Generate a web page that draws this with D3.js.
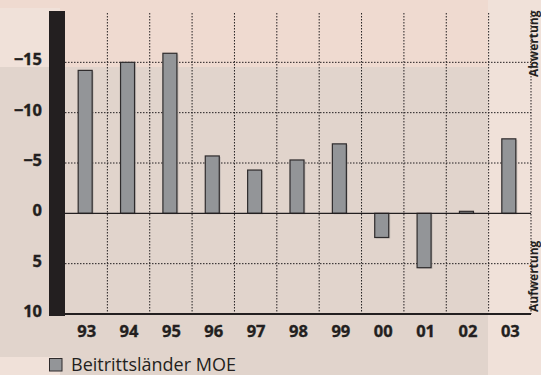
<!DOCTYPE html>
<html>
<head>
<meta charset="utf-8">
<script src="https://cdn.jsdelivr.net/npm/d3@7"></script>
<style>
  html, body { margin: 0; padding: 0; background: #f0e1d9; }
  svg { display: block; }
</style>
</head>
<body>
<svg id="chart" width="541" height="375"></svg>
<script>
// Years shown on the category axis
const years = ["93", "94", "95", "96", "97", "98", "99", "00", "01", "02", "03"];
// Series: Beitrittsländer MOE (negative = Abwertung, drawn upward)
const values = [-14.2, -15.0, -15.9, -5.7, -4.3, -5.3, -6.9, 2.4, 5.4, -0.2, -7.4];
// Value-axis ticks and their labels
const yTicks = [-15, -10, -5, 0, 5, 10];
const yTickLabels = ["\u221215", "\u221210", "\u22125", "0", "5", "10"];
const seriesName = "Beitrittsländer MOE";

const svg = d3.select("#chart");
const W = 541, H = 375;
const plot = { left: 65, right: 531, top: 12, bottom: 314 };

// Background panels
svg.append("rect").attr("x", 0).attr("y", 0).attr("width", W).attr("height", H).attr("fill", "#f0e1d9");
svg.append("path")
  .attr("d", "M0,0H488V67H60V8H0Z")
  .attr("fill", "#efdad0");
svg.append("path")
  .attr("d", "M0,67H488V375H60V357H0Z")
  .attr("fill", "#e1d4cc");

const x = d3.scaleBand().domain(years).range([plot.left, plot.right]).padding(0);
const y = d3.scaleLinear().domain([-20, 10]).range([plot.top, plot.bottom]);

const ink = "#231f20";

// Horizontal dotted gridlines
svg.append("g").selectAll("line")
  .data(yTicks.filter(t => t !== 0 && t !== 10))
  .join("line")
  .attr("x1", plot.left).attr("x2", plot.right)
  .attr("y1", d => y(d)).attr("y2", d => y(d))
  .attr("stroke", ink).attr("stroke-width", 1)
  .attr("stroke-dasharray", "1.5,1.5");

// Vertical dotted separators between years
const bounds = years.slice(1).map(d => x(d)).concat([plot.right]);
svg.append("g").selectAll("line")
  .data(bounds)
  .join("line")
  .attr("x1", d => d).attr("x2", d => d)
  .attr("y1", plot.top + 1).attr("y2", plot.bottom)
  .attr("stroke", ink).attr("stroke-width", 1)
  .attr("stroke-dasharray", "1.5,1.5");

// Bars
const barW = 14;
const bx = d => x(d) + x.bandwidth() / 2 - barW / 2 - 1;
const rows = years.map((d, i) => ({ year: d, v: values[i] }));
const bars = svg.append("g");
bars.selectAll("rect.shadow")
  .data(rows)
  .join("rect")
  .attr("class", "shadow")
  .attr("x", d => bx(d.year) + 1.5)
  .attr("y", d => Math.min(y(d.v), y(0)) + 1)
  .attr("width", barW)
  .attr("height", d => Math.abs(y(d.v) - y(0)))
  .attr("fill", "#b8b1ad").attr("opacity", 0.7);
bars.selectAll("rect.bar")
  .data(rows)
  .join("rect")
  .attr("class", "bar")
  .attr("x", d => bx(d.year))
  .attr("y", d => Math.min(y(d.v), y(0)))
  .attr("width", barW)
  .attr("height", d => Math.abs(y(d.v) - y(0)))
  .attr("fill", "#939598")
  .attr("stroke", "#2e2b2c").attr("stroke-width", 1.2);

// Zero line
svg.append("line")
  .attr("x1", plot.left).attr("x2", plot.right)
  .attr("y1", y(0)).attr("y2", y(0))
  .attr("stroke", ink).attr("stroke-width", 1.2);

// Category axis line
svg.append("line")
  .attr("x1", plot.left).attr("x2", plot.right)
  .attr("y1", y(10)).attr("y2", y(10))
  .attr("stroke", ink).attr("stroke-width", 2.2);

// Thick value-axis bar
svg.append("rect")
  .attr("x", 49).attr("y", 11)
  .attr("width", plot.left - 49).attr("height", y(10) + 2 - 11)
  .attr("fill", ink);

const font = "'Open Sans', 'Noto Sans', sans-serif";

// Value-axis labels
svg.append("g").selectAll("text")
  .data(yTicks)
  .join("text")
  .attr("x", 42)
  .attr("y", d => y(d) + 3)
  .attr("text-anchor", "end")
  .attr("font-family", font).attr("font-weight", 700).attr("font-size", 16.5)
  .attr("fill", ink).attr("stroke", ink).attr("stroke-width", 0.35)
  .text((d, i) => yTickLabels[i]);

// Category labels
svg.append("g").selectAll("text")
  .data(years)
  .join("text")
  .attr("x", d => x(d) + x.bandwidth() / 2 + 0.5)
  .attr("y", 337)
  .attr("text-anchor", "middle")
  .attr("font-family", font).attr("font-weight", 700).attr("font-size", 16.5)
  .attr("fill", ink).attr("stroke", ink).attr("stroke-width", 0.35)
  .text(d => d);

// Side annotations, reading upward along the right edge
svg.append("text")
  .attr("transform", "translate(538,77) rotate(-90)")
  .attr("font-family", font).attr("font-weight", 700).attr("font-size", 12)
  .attr("fill", ink)
  .text("Abwertung");
svg.append("text")
  .attr("transform", "translate(538,312) rotate(-90)")
  .attr("font-family", font).attr("font-weight", 700).attr("font-size", 12)
  .attr("fill", ink)
  .text("Aufwertung");

// Legend
svg.append("rect")
  .attr("x", 49.5).attr("y", 358.5).attr("width", 12.5).attr("height", 12.5)
  .attr("fill", "#939598").attr("stroke", "#2e2b2c").attr("stroke-width", 1);
svg.append("text")
  .attr("x", 71).attr("y", 370.5)
  .attr("font-family", font).attr("font-weight", 400).attr("font-size", 18)
  .attr("fill", ink)
  .text(seriesName);
</script>
</body>
</html>
